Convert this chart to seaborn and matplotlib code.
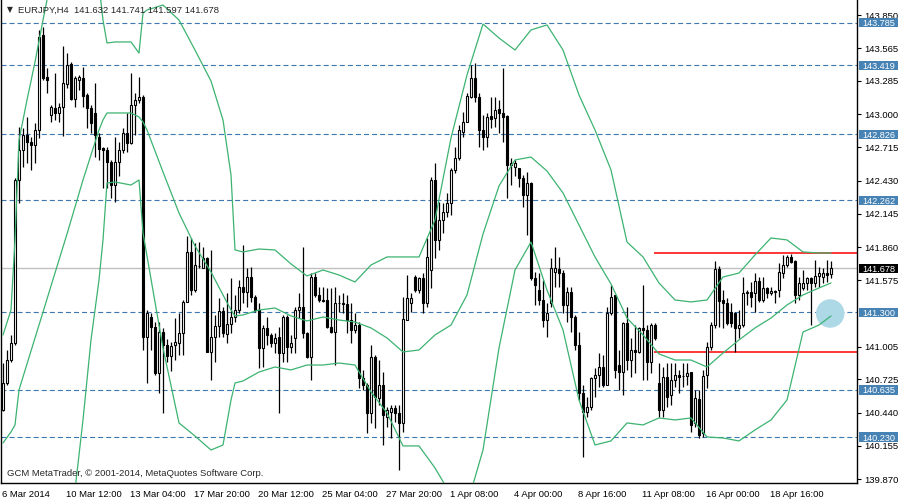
import matplotlib
matplotlib.use('Agg')
import matplotlib.pyplot as plt
import matplotlib.transforms as mtransforms
from matplotlib.patches import Rectangle
import numpy as np
import pandas as pd
import seaborn as sns

symbol = 'EURJPY,H4'

opens = [
    140.462, 140.694, 140.891, 141.037, 142.435, 142.692, 142.821, 142.761, 142.735, 142.864,
    143.679, 143.318, 142.992, 143.052, 143.009, 143.061, 143.258, 143.430, 143.130, 143.293,
    143.310, 143.164, 143.052, 143.009, 142.804, 142.710, 142.692, 142.589, 142.392, 142.589,
    142.692, 142.838, 142.752, 143.078, 143.121, 143.147, 141.089, 141.260, 141.175, 140.780,
    141.132, 141.020, 140.926, 141.020, 141.037, 141.123, 141.389, 141.818, 141.491, 141.697,
    141.680, 141.766, 140.960, 141.089, 141.183, 141.312, 141.114, 141.200, 141.260, 141.321,
    141.518, 141.474, 141.603, 141.432, 141.321, 140.994, 141.166, 141.106, 141.037, 141.089,
    140.951, 141.260, 141.003, 141.080, 141.321, 141.346, 141.123, 140.917, 141.603, 141.449,
    141.406, 141.406, 141.175, 141.132, 141.380, 141.380, 141.372, 141.235, 141.149, 141.192,
    140.737, 140.677, 140.436, 140.917, 140.565, 140.677, 140.402, 140.445, 140.479, 140.436,
    140.350, 141.235, 141.380, 141.603, 141.491, 141.595, 141.380, 141.663, 142.435, 141.920,
    142.092, 142.160, 142.238, 142.520, 142.624, 142.847, 142.932, 143.147, 143.310, 143.147,
    142.864, 142.804, 142.984, 142.967, 143.044, 143.009, 142.984, 142.564, 142.547, 142.538,
    142.452, 142.306, 142.409, 141.595, 141.491, 141.406, 141.235, 141.380, 141.646, 141.672,
    141.637, 141.363, 141.474, 141.260, 141.020, 140.608, 140.445, 140.488, 140.737, 140.763,
    140.831, 140.677, 141.295, 141.449, 140.848, 140.788, 141.209, 140.891, 140.977, 140.960,
    141.166, 141.149, 140.874, 141.192, 140.694, 140.462, 140.745, 140.591, 140.720, 140.763,
    140.754, 140.754, 140.788, 140.350, 140.557, 140.265, 140.763, 141.003, 141.192, 141.672,
    141.406, 141.380, 141.303, 141.295, 141.166, 141.192, 141.466, 141.474, 141.466, 141.569,
    141.406, 141.509, 141.466, 141.483, 141.491, 141.637, 141.706, 141.775, 141.740, 141.449,
    141.509, 141.552, 141.595, 141.552, 141.612, 141.603, 141.637, 141.632,
]
highs = [
    140.866, 140.977, 141.106, 142.452, 142.889, 142.880, 142.975, 142.804, 142.924, 143.722,
    143.747, 143.396, 143.078, 143.353, 143.095, 143.584, 143.524, 143.447, 143.327, 143.336,
    143.404, 143.181, 143.078, 143.267, 142.838, 142.718, 142.718, 142.607, 142.804, 142.761,
    142.880, 143.009, 143.353, 143.181, 143.318, 143.164, 141.321, 141.295, 141.218, 141.218,
    141.166, 141.072, 141.046, 141.252, 141.295, 141.406, 141.955, 141.938, 141.895, 141.903,
    141.860, 141.775, 141.835, 141.278, 141.423, 141.346, 141.466, 141.595, 141.449, 141.578,
    141.878, 141.680, 141.689, 141.449, 141.380, 141.192, 141.260, 141.123, 141.123, 141.175,
    141.278, 141.278, 141.106, 141.346, 141.466, 141.860, 141.132, 141.637, 141.637, 141.518,
    141.518, 141.509, 141.509, 141.518, 141.449, 141.466, 141.449, 141.380, 141.295, 141.218,
    140.806, 140.694, 141.020, 140.934, 140.891, 140.788, 140.488, 140.505, 140.505, 140.505,
    141.432, 141.620, 141.466, 141.620, 141.603, 141.637, 141.938, 142.461, 142.581, 142.247,
    142.238, 142.324, 142.538, 142.718, 142.907, 143.018, 143.181, 143.421, 143.438, 143.181,
    142.992, 143.009, 143.147, 143.147, 143.121, 143.396, 142.992, 142.624, 142.607, 142.538,
    142.478, 142.504, 142.418, 141.646, 141.637, 141.578, 141.380, 141.766, 141.860, 141.775,
    141.663, 141.518, 141.518, 141.278, 141.132, 140.677, 140.574, 140.745, 140.823, 140.951,
    140.934, 141.346, 141.535, 141.449, 140.977, 141.218, 141.346, 141.080, 141.192, 141.175,
    141.535, 141.192, 141.209, 141.209, 140.866, 140.831, 140.866, 140.866, 140.866, 140.806,
    140.866, 140.866, 140.788, 140.634, 140.634, 140.806, 141.046, 141.218, 141.740, 141.697,
    141.491, 141.423, 141.380, 141.303, 141.321, 141.603, 141.491, 141.560, 141.637, 141.603,
    141.603, 141.518, 141.518, 141.491, 141.723, 141.792, 141.792, 141.800, 141.749, 141.603,
    141.663, 141.603, 141.603, 141.749, 141.689, 141.680, 141.749, 141.741,
]
lows = [
    140.455, 140.677, 140.874, 141.020, 142.238, 142.544, 142.578, 142.518, 142.578, 142.795,
    143.293, 143.181, 142.932, 142.949, 142.932, 142.812, 143.224, 143.121, 143.061, 143.207,
    143.061, 142.880, 142.838, 142.632, 142.607, 142.367, 142.367, 142.281, 142.247, 142.469,
    142.667, 142.675, 142.745, 142.821, 143.095, 140.977, 140.694, 140.977, 140.763, 140.608,
    140.436, 140.874, 140.797, 140.891, 140.934, 140.934, 141.389, 141.449, 141.474, 141.680,
    141.680, 140.960, 140.720, 140.874, 141.089, 141.089, 141.037, 141.123, 141.218, 141.295,
    141.380, 141.346, 141.389, 141.303, 140.823, 140.831, 141.020, 141.003, 140.951, 140.436,
    140.874, 140.874, 140.951, 140.951, 141.252, 141.080, 140.909, 140.720, 141.432, 141.389,
    141.389, 141.166, 141.123, 140.848, 141.303, 141.295, 141.123, 141.037, 141.123, 140.651,
    140.634, 140.265, 140.350, 140.307, 140.505, 140.162, 140.316, 140.222, 140.359, 139.948,
    140.273, 141.235, 141.303, 141.474, 141.466, 141.295, 141.346, 141.509, 141.766, 141.835,
    141.980, 142.118, 142.135, 142.495, 142.607, 142.804, 142.932, 143.138, 143.104, 142.718,
    142.692, 142.718, 142.880, 142.889, 142.838, 142.761, 142.281, 142.392, 142.469, 142.375,
    142.204, 141.963, 141.578, 141.363, 141.363, 141.175, 141.089, 141.346, 141.518, 141.518,
    141.295, 141.218, 141.132, 140.977, 140.548, 140.059, 140.402, 140.462, 140.574, 140.660,
    140.660, 140.677, 141.278, 140.737, 140.634, 140.591, 140.806, 140.745, 140.780, 140.951,
    140.720, 140.720, 140.780, 141.063, 140.402, 140.402, 140.488, 140.505, 140.660, 140.608,
    140.660, 140.677, 140.273, 140.316, 140.222, 140.231, 140.651, 140.977, 141.166, 141.175,
    141.166, 141.192, 141.175, 140.960, 141.080, 141.175, 141.363, 141.346, 141.303, 141.389,
    141.389, 141.423, 141.449, 141.380, 141.432, 141.595, 141.689, 141.723, 141.380, 141.406,
    141.491, 141.491, 141.192, 141.518, 141.518, 141.552, 141.560, 141.597,
]
closes = [
    140.694, 140.891, 141.037, 142.435, 142.692, 142.821, 142.761, 142.735, 142.864, 143.662,
    143.310, 143.293, 143.061, 143.009, 143.061, 143.267, 143.421, 143.130, 143.310, 143.318,
    143.155, 143.052, 142.924, 142.821, 142.701, 142.692, 142.589, 142.392, 142.589, 142.692,
    142.838, 142.752, 143.078, 143.121, 143.147, 141.089, 141.295, 141.175, 140.780, 141.132,
    141.020, 140.926, 141.012, 141.046, 141.123, 141.389, 141.818, 141.491, 141.706, 141.700,
    141.766, 140.960, 141.089, 141.183, 141.312, 141.123, 141.200, 141.260, 141.321, 141.518,
    141.474, 141.603, 141.432, 141.321, 140.994, 141.166, 141.106, 141.037, 141.080, 140.951,
    141.260, 141.003, 141.037, 141.321, 141.346, 141.123, 140.917, 141.603, 141.449, 141.406,
    141.398, 141.175, 141.132, 141.380, 141.378, 141.372, 141.235, 141.149, 141.192, 140.737,
    140.677, 140.436, 140.917, 140.574, 140.677, 140.419, 140.462, 140.479, 140.436, 140.350,
    141.243, 141.423, 141.423, 141.491, 141.595, 141.380, 141.775, 142.435, 141.920, 142.092,
    142.160, 142.238, 142.520, 142.624, 142.864, 142.932, 143.155, 143.310, 143.147, 142.864,
    142.804, 142.975, 142.958, 143.035, 143.009, 142.975, 142.564, 142.581, 142.581, 142.452,
    142.306, 142.409, 141.595, 141.535, 141.406, 141.235, 141.295, 141.680, 141.680, 141.637,
    141.363, 141.474, 141.260, 141.020, 140.608, 140.445, 140.488, 140.737, 140.763, 140.831,
    140.677, 141.295, 141.432, 140.806, 140.788, 141.209, 140.891, 140.977, 140.960, 141.166,
    141.149, 140.874, 141.192, 141.080, 140.462, 140.745, 140.574, 140.720, 140.763, 140.745,
    140.752, 140.780, 140.333, 140.565, 140.248, 140.754, 141.003, 141.192, 141.672, 141.398,
    141.380, 141.209, 141.209, 141.166, 141.192, 141.466, 141.474, 141.432, 141.569, 141.406,
    141.509, 141.466, 141.483, 141.474, 141.646, 141.706, 141.775, 141.732, 141.449, 141.552,
    141.552, 141.595, 141.552, 141.612, 141.637, 141.637, 141.620, 141.678,
]

# Bollinger bands at these bars
band_bars = [0, 2, 3, 4, 6, 8, 10, 12, 16, 18, 20, 22, 24, 25, 26, 28, 32, 34, 35, 36, 40, 44,
             48, 52, 55, 57, 58, 60,
             64, 68, 72, 76, 80, 84, 88, 92, 96, 100, 104, 108, 112, 116, 120, 124, 128, 132,
             136, 140, 144, 148, 152, 156, 160, 164, 168, 172, 176, 180, 184, 188, 192, 196,
             200, 204, 207]
upper_band = [
    141.106, 141.320, 141.921, 142.778, 143.121, 143.447, 143.807, 144.151, 144.494, 144.451,
    144.322, 144.193, 144.108, 143.807, 143.610, 143.619, 143.619, 143.524, 143.867, 143.893,
    143.936, 143.807, 143.550, 143.284, 142.950, 142.478, 141.835, 141.818,
    141.843, 141.835, 141.715, 141.612, 141.663, 141.620, 141.560, 141.706, 141.775, 141.775,
    141.775, 142.092, 142.795, 143.336, 143.773, 143.653, 143.550, 143.722, 143.765, 143.550,
    143.164, 142.864, 142.521, 141.903, 141.775, 141.552, 141.406, 141.389, 141.406, 141.603,
    141.637, 141.792, 141.938, 141.921, 141.818, 141.809, 141.809,
]
middle_band = [
    140.179, 140.274, 140.334, 140.634, 140.857, 141.080, 141.302, 141.526, 141.972, 142.204,
    142.435, 142.650, 142.864, 142.950, 143.010, 143.010, 143.010, 142.976, 142.933, 142.864,
    142.504, 142.152, 141.869, 141.646, 141.449, 141.320, 141.269, 141.277,
    141.320, 141.337, 141.269, 141.226, 141.260, 141.234, 141.217, 141.166, 141.080, 140.960,
    140.977, 141.106, 141.191, 141.449, 141.972, 142.384, 142.607, 142.632, 142.512, 142.324,
    142.049, 141.775, 141.543, 141.251, 141.106, 140.943, 140.891, 140.891, 140.831, 140.951,
    141.063, 141.166, 141.251, 141.363, 141.449, 141.509, 141.552,
]
lower_band = [
    139.176, 139.004, 138.918, 138.833, 138.747, 138.661, 138.704, 138.833, 139.433, 139.776,
    140.377, 141.063, 141.577, 141.921, 142.409, 142.418, 142.392, 142.435, 141.981, 141.783,
    140.994, 140.351, 140.239, 140.119, 140.162, 140.548, 140.694, 140.711,
    140.788, 140.831, 140.806, 140.848, 140.848, 140.865, 140.848, 140.617, 140.437, 140.154,
    140.154, 139.965, 139.733, 139.648, 140.119, 140.994, 141.663, 141.903, 141.491, 141.149,
    140.548, 140.162, 140.197, 140.351, 140.334, 140.394, 140.377, 140.394, 140.231, 140.222,
    140.197, 140.291, 140.377, 140.548, 141.131, 141.191, 141.269,
]

date_labels = ['6 Mar 2014', '10 Mar 12:00', '13 Mar 04:00', '17 Mar 20:00', '20 Mar 12:00',
               '25 Mar 04:00', '27 Mar 20:00', '1 Apr 08:00', '4 Apr 00:00', '8 Apr 16:00',
               '11 Apr 08:00', '16 Apr 00:00', '18 Apr 16:00']
price_ticks = [143.850, 143.565, 143.285, 143.000, 142.715, 142.430, 142.145, 141.860,
               141.575, 141.005, 140.725, 140.440, 140.155, 139.870]
level_lines = [143.785, 143.419, 142.826, 142.262, 141.300, 140.635, 140.230]
last_price = closes[-1]
red_levels = [141.809, 140.960]
red_start_bar = 163
marker_bar, marker_price = 206.8, 141.29

green = '#3CB371'
level_blue = '#3F78B0'
label_blue = '#4682B4'
fs = 6.8

sns.set_style('white')
plt.rcParams['font.family'] = ['Liberation Sans', 'DejaVu Sans']
plt.rcParams['lines.scale_dashes'] = False

fig = plt.figure(figsize=(9, 5), dpi=100)
ax = fig.add_axes([1 / 900, 17 / 500, 856 / 900, 483 / 500])

bars = np.arange(len(closes))
o = np.array(opens)
c = np.array(closes)
up = c >= o

# horizontal levels
for lvl in level_lines:
    ax.axhline(lvl, color=level_blue, lw=0.8, ls=(0, (3.6, 2.2)), zorder=1)
ax.axhline(last_price, color='#C0C0C0', lw=1.0, zorder=1)
ax.hlines(red_levels, red_start_bar - 0.2, 213.5, color='red', lw=1.1, zorder=2)
ax.scatter([marker_bar], [marker_price], s=420, color='#ADD8E6', edgecolors='none', zorder=1.5)

# candles
ax.vlines(bars, lows, highs, color='black', lw=0.9, zorder=3)
ax.bar(bars[up], (c - o)[up], bottom=o[up], width=0.55, facecolor='white',
       edgecolor='black', lw=0.8, zorder=4)
ax.bar(bars[~up], (o - c)[~up], bottom=c[~up], width=0.55, facecolor='black',
       edgecolor='black', lw=0.8, zorder=4)

bands = pd.DataFrame({'bar': band_bars, 'upper': upper_band,
                      'middle': middle_band, 'lower': lower_band})
for col in ['upper', 'middle', 'lower']:
    sns.lineplot(data=bands, x='bar', y=col, ax=ax, color=green, lw=0.9, zorder=5)

ax.set_xlim(-0.5, 213.5)
ax.set_ylim(139.836, 143.979)
ax.set_xlabel('')
ax.set_ylabel('')

for side in ['left', 'right', 'bottom']:
    ax.spines[side].set_color('black')
    ax.spines[side].set_linewidth(1.0)
ax.spines['top'].set_visible(False)

ax.yaxis.tick_right()
ax.set_yticks(price_ticks)
ax.set_yticklabels([f'{v:.3f}' for v in price_ticks])
ax.tick_params(axis='y', direction='out', length=3, width=0.8, labelsize=fs, pad=2,
               colors='black')
ax.set_xticks(np.arange(len(date_labels)) * 16 - 0.25)
ax.set_xticklabels(date_labels)
ax.tick_params(axis='x', direction='out', length=4, width=0.8, labelsize=fs, pad=1,
               colors='black')
for lab in ax.get_xticklabels():
    lab.set_ha('left')

# price labels on the right axis
trans = mtransforms.blended_transform_factory(ax.transAxes, ax.transData)
half_h = 0.04
for lvl, fc in [(v, label_blue) for v in level_lines] + [(last_price, 'black')]:
    ax.add_patch(Rectangle((1.0023, lvl - half_h), 0.0456, 2 * half_h, transform=trans,
                           facecolor=fc, edgecolor='none', clip_on=False, zorder=9))
    ax.text(1.0065, lvl, f'{lvl:.3f}', transform=trans, ha='left', va='center_baseline',
            color='white', fontsize=6.6, clip_on=False, zorder=10)

fig.text(7 / 900, 1 - 10 / 500, '\u25bc', fontsize=5.5, va='center', ha='left',
         family='DejaVu Sans')
fig.text(18 / 900, 1 - 10 / 500,
         f'{symbol}  {opens[-1]:.3f} {highs[-1]:.3f} {lows[-1]:.3f} {closes[-1]:.3f}',
         fontsize=fs, va='center', ha='left')
fig.text(7 / 900, 1 - 474 / 500, 'GCM MetaTrader, \u00a9 2001-2014, MetaQuotes Software Corp.',
         fontsize=fs, va='center', ha='left')

fig.savefig('out.png', dpi=100)
